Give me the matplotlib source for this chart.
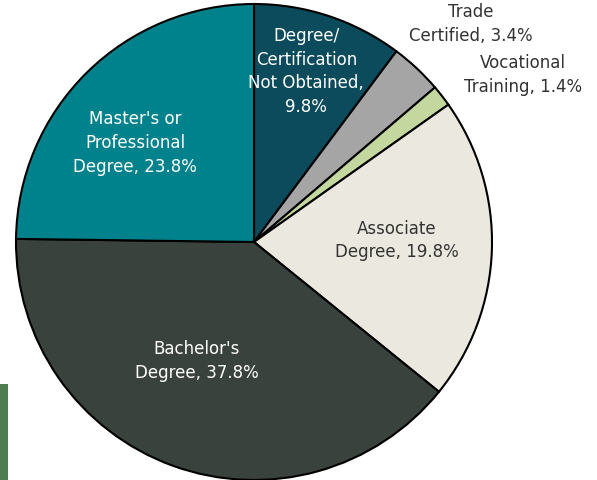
import matplotlib
matplotlib.use("Agg")
import matplotlib.pyplot as plt
from matplotlib.patches import Rectangle

# Highest credential attained, share of respondents (%)
categories = [
    "Degree/\nCertification\nNot Obtained",
    "Trade\nCertified",
    "Vocational\nTraining",
    "Associate\nDegree",
    "Bachelor's\nDegree",
    "Master's or\nProfessional\nDegree",
]
shares = [9.8, 3.4, 1.4, 19.8, 37.8, 23.8]
colors = ["#0B4B5B", "#A5A5A5", "#C4D79E", "#EBE9DF", "#3A423D", "#00828C"]
text_colors = ["white", "#333333", "#333333", "#333333", "white", "white"]
separators = [",\n", ", ", ", ", ", ", ", ", ", "]

# label centres, in units of the pie radius relative to the pie centre
label_pos = [
    (0.22, 0.72),
    (0.91, 0.92),
    (1.13, 0.705),
    (0.60, 0.01),
    (-0.24, -0.495),
    (-0.50, 0.42),
]

W, H, DPI = 597, 481, 100
fig = plt.figure(figsize=(W / DPI, H / DPI), dpi=DPI)

cx, cy, r = 254, 243, 238
ax = fig.add_axes([(cx - r) / W, (H - cy - r) / H, 2 * r / W, 2 * r / H])
ax.pie(
    shares,
    colors=colors,
    startangle=90,
    counterclock=False,
    radius=1.0,
    wedgeprops=dict(edgecolor="black", linewidth=1.5),
)
ax.set_xlim(-1, 1)
ax.set_ylim(-1, 1)
ax.axis("off")

for name, val, sep, (x, y), tc in zip(categories, shares, separators,
                                      label_pos, text_colors):
    ax.text(
        x, y, f"{name}{sep}{val}%",
        ha="center", va="center", color=tc,
        fontsize=12, family="DejaVu Sans", linespacing=1.4,
        clip_on=False,
    )

# green accent strip at the lower left edge
fig.add_artist(Rectangle((0, 0), 8 / W, 96 / H, transform=fig.transFigure,
                         facecolor="#4E7D50", edgecolor="none"))

fig.savefig("out.png", dpi=DPI)
